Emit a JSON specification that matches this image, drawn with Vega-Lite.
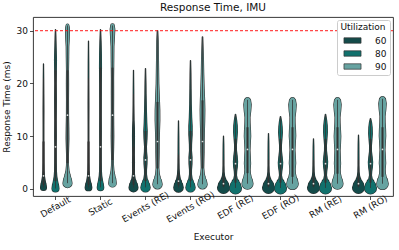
{
"$schema":"https://vega.github.io/schema/vega-lite/v6.json",
"width":360,"height":179,"autosize":"none",
"padding":{"left":33,"top":17,"right":6,"bottom":54},
"background":"white",
"config":{"font":"DejaVu Sans","view":{"stroke":"#222222","strokeWidth":0.9},
 "axis":{"grid":false,"domain":false,"tickColor":"#222222","tickSize":3.5,"tickWidth":0.8,"labelColor":"#111111","titleColor":"#111111","labelFontSize":9,"titleFontSize":9,"titleFontWeight":"normal"}},
"title":{"text":"Response Time, IMU","fontSize":10.5,"fontWeight":"normal","color":"#111111","offset":4},
"datasets":{
"violins":[
{"executor":"Default","util":60,"rt":0.3,"width":6},{"executor":"Default","util":60,"rt":0.8,"width":5.2},{"executor":"Default","util":60,"rt":1.5,"width":3.5},{"executor":"Default","util":60,"rt":2.5,"width":1.8},{"executor":"Default","util":60,"rt":3.5,"width":1.2},{"executor":"Default","util":60,"rt":5,"width":1},{"executor":"Default","util":60,"rt":8,"width":0.8},{"executor":"Default","util":60,"rt":12,"width":0.8},{"executor":"Default","util":60,"rt":15,"width":0.9},{"executor":"Default","util":60,"rt":18,"width":0.7},{"executor":"Default","util":60,"rt":21,"width":0.5},{"executor":"Default","util":60,"rt":23.7,"width":0.2},
{"executor":"Default","util":80,"rt":0.1,"width":7},{"executor":"Default","util":80,"rt":0.6,"width":6.3},{"executor":"Default","util":80,"rt":1.4,"width":4.4},{"executor":"Default","util":80,"rt":2.4,"width":2.6},{"executor":"Default","util":80,"rt":3.5,"width":1.8},{"executor":"Default","util":80,"rt":5,"width":1.5},{"executor":"Default","util":80,"rt":8,"width":1.3},{"executor":"Default","util":80,"rt":10,"width":1.6},{"executor":"Default","util":80,"rt":13,"width":1.3},{"executor":"Default","util":80,"rt":17,"width":1.7},{"executor":"Default","util":80,"rt":20,"width":1.3},{"executor":"Default","util":80,"rt":22,"width":1.6},{"executor":"Default","util":80,"rt":24.5,"width":2},{"executor":"Default","util":80,"rt":27,"width":1.3},{"executor":"Default","util":80,"rt":29,"width":0.8},{"executor":"Default","util":80,"rt":30.2,"width":0.3},
{"executor":"Default","util":90,"rt":1.1,"width":9},{"executor":"Default","util":90,"rt":1.7,"width":8},{"executor":"Default","util":90,"rt":2.5,"width":5.5},{"executor":"Default","util":90,"rt":3.5,"width":3},{"executor":"Default","util":90,"rt":4.5,"width":2},{"executor":"Default","util":90,"rt":6,"width":1.7},{"executor":"Default","util":90,"rt":7.5,"width":2.2},{"executor":"Default","util":90,"rt":9.5,"width":2.8},{"executor":"Default","util":90,"rt":11.5,"width":2.6},{"executor":"Default","util":90,"rt":14,"width":2.1},{"executor":"Default","util":90,"rt":17,"width":2},{"executor":"Default","util":90,"rt":20,"width":2.2},{"executor":"Default","util":90,"rt":22.5,"width":2},{"executor":"Default","util":90,"rt":25,"width":2.4},{"executor":"Default","util":90,"rt":27,"width":2.6},{"executor":"Default","util":90,"rt":28.5,"width":3.5},{"executor":"Default","util":90,"rt":30,"width":4},{"executor":"Default","util":90,"rt":30.6,"width":3.6},{"executor":"Default","util":90,"rt":31,"width":2.8},
{"executor":"Static","util":60,"rt":0.3,"width":6.7},{"executor":"Static","util":60,"rt":0.8,"width":5.8},{"executor":"Static","util":60,"rt":1.5,"width":3.7},{"executor":"Static","util":60,"rt":2.5,"width":2},{"executor":"Static","util":60,"rt":3.5,"width":1.2},{"executor":"Static","util":60,"rt":5,"width":1},{"executor":"Static","util":60,"rt":8,"width":0.8},{"executor":"Static","util":60,"rt":12,"width":0.8},{"executor":"Static","util":60,"rt":16,"width":0.9},{"executor":"Static","util":60,"rt":20,"width":0.7},{"executor":"Static","util":60,"rt":24,"width":0.6},{"executor":"Static","util":60,"rt":28,"width":0.2},
{"executor":"Static","util":80,"rt":0.3,"width":6.5},{"executor":"Static","util":80,"rt":0.8,"width":5.8},{"executor":"Static","util":80,"rt":1.5,"width":4.2},{"executor":"Static","util":80,"rt":2.5,"width":2.5},{"executor":"Static","util":80,"rt":3.5,"width":1.8},{"executor":"Static","util":80,"rt":5,"width":1.5},{"executor":"Static","util":80,"rt":8,"width":1.4},{"executor":"Static","util":80,"rt":11,"width":1.6},{"executor":"Static","util":80,"rt":14,"width":1.4},{"executor":"Static","util":80,"rt":17,"width":1.5},{"executor":"Static","util":80,"rt":20,"width":1.6},{"executor":"Static","util":80,"rt":23,"width":2},{"executor":"Static","util":80,"rt":25.5,"width":1.8},{"executor":"Static","util":80,"rt":28,"width":1.2},{"executor":"Static","util":80,"rt":30.2,"width":0.3},
{"executor":"Static","util":90,"rt":1.1,"width":7.5},{"executor":"Static","util":90,"rt":1.7,"width":6.8},{"executor":"Static","util":90,"rt":2.5,"width":4.8},{"executor":"Static","util":90,"rt":3.5,"width":2.8},{"executor":"Static","util":90,"rt":4.5,"width":2},{"executor":"Static","util":90,"rt":6,"width":1.8},{"executor":"Static","util":90,"rt":8,"width":2.3},{"executor":"Static","util":90,"rt":10,"width":2.6},{"executor":"Static","util":90,"rt":12,"width":2.4},{"executor":"Static","util":90,"rt":15,"width":2.2},{"executor":"Static","util":90,"rt":18,"width":2.3},{"executor":"Static","util":90,"rt":21,"width":2.2},{"executor":"Static","util":90,"rt":24,"width":2.5},{"executor":"Static","util":90,"rt":27,"width":2.8},{"executor":"Static","util":90,"rt":29,"width":4},{"executor":"Static","util":90,"rt":30.3,"width":4.6},{"executor":"Static","util":90,"rt":31,"width":3.5},
{"executor":"Events (RE)","util":60,"rt":0.3,"width":9},{"executor":"Events (RE)","util":60,"rt":0.7,"width":8},{"executor":"Events (RE)","util":60,"rt":1.3,"width":5.5},{"executor":"Events (RE)","util":60,"rt":2,"width":3.2},{"executor":"Events (RE)","util":60,"rt":2.8,"width":2},{"executor":"Events (RE)","util":60,"rt":3.8,"width":1.8},{"executor":"Events (RE)","util":60,"rt":5,"width":2},{"executor":"Events (RE)","util":60,"rt":6.5,"width":1.6},{"executor":"Events (RE)","util":60,"rt":8,"width":1.8},{"executor":"Events (RE)","util":60,"rt":10,"width":2},{"executor":"Events (RE)","util":60,"rt":11.5,"width":1.8},{"executor":"Events (RE)","util":60,"rt":13,"width":1.2},{"executor":"Events (RE)","util":60,"rt":16,"width":0.8},{"executor":"Events (RE)","util":60,"rt":19,"width":0.6},{"executor":"Events (RE)","util":60,"rt":22.5,"width":0.2},
{"executor":"Events (RE)","util":80,"rt":0.3,"width":9.3},{"executor":"Events (RE)","util":80,"rt":0.7,"width":8.3},{"executor":"Events (RE)","util":80,"rt":1.3,"width":5.8},{"executor":"Events (RE)","util":80,"rt":2,"width":3.2},{"executor":"Events (RE)","util":80,"rt":2.8,"width":2},{"executor":"Events (RE)","util":80,"rt":3.6,"width":2},{"executor":"Events (RE)","util":80,"rt":4.8,"width":3},{"executor":"Events (RE)","util":80,"rt":6,"width":3.2},{"executor":"Events (RE)","util":80,"rt":7,"width":2.2},{"executor":"Events (RE)","util":80,"rt":8,"width":1.9},{"executor":"Events (RE)","util":80,"rt":9.5,"width":3},{"executor":"Events (RE)","util":80,"rt":11,"width":3.4},{"executor":"Events (RE)","util":80,"rt":12.5,"width":2.6},{"executor":"Events (RE)","util":80,"rt":15,"width":1.8},{"executor":"Events (RE)","util":80,"rt":18,"width":1.2},{"executor":"Events (RE)","util":80,"rt":20,"width":1},{"executor":"Events (RE)","util":80,"rt":22.8,"width":0.3},
{"executor":"Events (RE)","util":90,"rt":0.9,"width":9.3},{"executor":"Events (RE)","util":90,"rt":1.4,"width":8.2},{"executor":"Events (RE)","util":90,"rt":2.1,"width":5.5},{"executor":"Events (RE)","util":90,"rt":3,"width":3.5},{"executor":"Events (RE)","util":90,"rt":4,"width":2.7},{"executor":"Events (RE)","util":90,"rt":5.5,"width":3},{"executor":"Events (RE)","util":90,"rt":7,"width":3.3},{"executor":"Events (RE)","util":90,"rt":9,"width":3.4},{"executor":"Events (RE)","util":90,"rt":11,"width":4},{"executor":"Events (RE)","util":90,"rt":13,"width":4.7},{"executor":"Events (RE)","util":90,"rt":15,"width":4.6},{"executor":"Events (RE)","util":90,"rt":17,"width":3.8},{"executor":"Events (RE)","util":90,"rt":20,"width":2.6},{"executor":"Events (RE)","util":90,"rt":24,"width":2},{"executor":"Events (RE)","util":90,"rt":28,"width":1.5},{"executor":"Events (RE)","util":90,"rt":30,"width":0.5},
{"executor":"Events (RO)","util":60,"rt":0.3,"width":9.5},{"executor":"Events (RO)","util":60,"rt":0.7,"width":8.5},{"executor":"Events (RO)","util":60,"rt":1.3,"width":6},{"executor":"Events (RO)","util":60,"rt":2,"width":3.5},{"executor":"Events (RO)","util":60,"rt":2.8,"width":2},{"executor":"Events (RO)","util":60,"rt":3.8,"width":1.3},{"executor":"Events (RO)","util":60,"rt":5,"width":1.1},{"executor":"Events (RO)","util":60,"rt":7,"width":0.9},{"executor":"Events (RO)","util":60,"rt":10,"width":0.7},{"executor":"Events (RO)","util":60,"rt":12.9,"width":0.2},
{"executor":"Events (RO)","util":80,"rt":0.3,"width":9.3},{"executor":"Events (RO)","util":80,"rt":0.7,"width":8.3},{"executor":"Events (RO)","util":80,"rt":1.3,"width":5.8},{"executor":"Events (RO)","util":80,"rt":2,"width":3.2},{"executor":"Events (RO)","util":80,"rt":2.8,"width":2},{"executor":"Events (RO)","util":80,"rt":3.6,"width":2},{"executor":"Events (RO)","util":80,"rt":4.8,"width":3},{"executor":"Events (RO)","util":80,"rt":6,"width":3.1},{"executor":"Events (RO)","util":80,"rt":7.3,"width":2},{"executor":"Events (RO)","util":80,"rt":8.5,"width":2.2},{"executor":"Events (RO)","util":80,"rt":10.3,"width":3.3},{"executor":"Events (RO)","util":80,"rt":12,"width":3.3},{"executor":"Events (RO)","util":80,"rt":13.5,"width":2.4},{"executor":"Events (RO)","util":80,"rt":16,"width":1.6},{"executor":"Events (RO)","util":80,"rt":19,"width":1.2},{"executor":"Events (RO)","util":80,"rt":22,"width":0.9},{"executor":"Events (RO)","util":80,"rt":24.3,"width":0.3},
{"executor":"Events (RO)","util":90,"rt":0.9,"width":9.3},{"executor":"Events (RO)","util":90,"rt":1.4,"width":8.2},{"executor":"Events (RO)","util":90,"rt":2.1,"width":5.5},{"executor":"Events (RO)","util":90,"rt":3,"width":3.4},{"executor":"Events (RO)","util":90,"rt":4,"width":2.5},{"executor":"Events (RO)","util":90,"rt":5.5,"width":2.8},{"executor":"Events (RO)","util":90,"rt":7,"width":3.2},{"executor":"Events (RO)","util":90,"rt":9,"width":3.3},{"executor":"Events (RO)","util":90,"rt":11,"width":3.8},{"executor":"Events (RO)","util":90,"rt":13,"width":4.4},{"executor":"Events (RO)","util":90,"rt":15,"width":4.7},{"executor":"Events (RO)","util":90,"rt":17,"width":4.2},{"executor":"Events (RO)","util":90,"rt":19,"width":3.3},{"executor":"Events (RO)","util":90,"rt":22,"width":2.4},{"executor":"Events (RO)","util":90,"rt":25,"width":1.8},{"executor":"Events (RO)","util":90,"rt":28.8,"width":0.5},
{"executor":"EDF (RE)","util":60,"rt":0.3,"width":12},{"executor":"EDF (RE)","util":60,"rt":0.7,"width":10.5},{"executor":"EDF (RE)","util":60,"rt":1.2,"width":7.5},{"executor":"EDF (RE)","util":60,"rt":1.8,"width":4.5},{"executor":"EDF (RE)","util":60,"rt":2.5,"width":2.2},{"executor":"EDF (RE)","util":60,"rt":3.2,"width":1.3},{"executor":"EDF (RE)","util":60,"rt":4.5,"width":1},{"executor":"EDF (RE)","util":60,"rt":6.5,"width":0.9},{"executor":"EDF (RE)","util":60,"rt":8.5,"width":0.7},{"executor":"EDF (RE)","util":60,"rt":10,"width":0.2},
{"executor":"EDF (RE)","util":80,"rt":0.2,"width":12},{"executor":"EDF (RE)","util":80,"rt":0.6,"width":10.5},{"executor":"EDF (RE)","util":80,"rt":1.2,"width":7},{"executor":"EDF (RE)","util":80,"rt":1.9,"width":3.5},{"executor":"EDF (RE)","util":80,"rt":2.6,"width":2},{"executor":"EDF (RE)","util":80,"rt":3.3,"width":2.4},{"executor":"EDF (RE)","util":80,"rt":4.3,"width":3.8},{"executor":"EDF (RE)","util":80,"rt":5.2,"width":4.2},{"executor":"EDF (RE)","util":80,"rt":6.2,"width":3.4},{"executor":"EDF (RE)","util":80,"rt":7.3,"width":2},{"executor":"EDF (RE)","util":80,"rt":8.3,"width":1.8},{"executor":"EDF (RE)","util":80,"rt":9.5,"width":2.8},{"executor":"EDF (RE)","util":80,"rt":10.8,"width":3.8},{"executor":"EDF (RE)","util":80,"rt":12,"width":3.5},{"executor":"EDF (RE)","util":80,"rt":13,"width":2.4},{"executor":"EDF (RE)","util":80,"rt":14.1,"width":0.5},
{"executor":"EDF (RE)","util":90,"rt":1,"width":11},{"executor":"EDF (RE)","util":90,"rt":1.5,"width":10},{"executor":"EDF (RE)","util":90,"rt":2.2,"width":7.5},{"executor":"EDF (RE)","util":90,"rt":3,"width":5.8},{"executor":"EDF (RE)","util":90,"rt":3.7,"width":5.3},{"executor":"EDF (RE)","util":90,"rt":4.8,"width":6.2},{"executor":"EDF (RE)","util":90,"rt":5.8,"width":5.8},{"executor":"EDF (RE)","util":90,"rt":7.3,"width":5},{"executor":"EDF (RE)","util":90,"rt":8.5,"width":5.5},{"executor":"EDF (RE)","util":90,"rt":10,"width":6.4},{"executor":"EDF (RE)","util":90,"rt":11.2,"width":6},{"executor":"EDF (RE)","util":90,"rt":12.5,"width":5.2},{"executor":"EDF (RE)","util":90,"rt":13.6,"width":5},{"executor":"EDF (RE)","util":90,"rt":14.8,"width":6.5},{"executor":"EDF (RE)","util":90,"rt":16,"width":7.5},{"executor":"EDF (RE)","util":90,"rt":16.6,"width":6.5},{"executor":"EDF (RE)","util":90,"rt":16.9,"width":4.5},
{"executor":"EDF (RO)","util":60,"rt":0.3,"width":12},{"executor":"EDF (RO)","util":60,"rt":0.7,"width":10.5},{"executor":"EDF (RO)","util":60,"rt":1.2,"width":7.5},{"executor":"EDF (RO)","util":60,"rt":1.8,"width":4.5},{"executor":"EDF (RO)","util":60,"rt":2.5,"width":2.2},{"executor":"EDF (RO)","util":60,"rt":3.2,"width":1.3},{"executor":"EDF (RO)","util":60,"rt":4.5,"width":1},{"executor":"EDF (RO)","util":60,"rt":7,"width":0.9},{"executor":"EDF (RO)","util":60,"rt":9,"width":0.7},{"executor":"EDF (RO)","util":60,"rt":10.5,"width":0.2},
{"executor":"EDF (RO)","util":80,"rt":0.2,"width":12},{"executor":"EDF (RO)","util":80,"rt":0.6,"width":10.5},{"executor":"EDF (RO)","util":80,"rt":1.2,"width":7},{"executor":"EDF (RO)","util":80,"rt":1.9,"width":3.5},{"executor":"EDF (RO)","util":80,"rt":2.6,"width":2},{"executor":"EDF (RO)","util":80,"rt":3.3,"width":2.6},{"executor":"EDF (RO)","util":80,"rt":4.2,"width":4},{"executor":"EDF (RO)","util":80,"rt":5,"width":4.4},{"executor":"EDF (RO)","util":80,"rt":6,"width":3.4},{"executor":"EDF (RO)","util":80,"rt":7.2,"width":2},{"executor":"EDF (RO)","util":80,"rt":8.2,"width":1.8},{"executor":"EDF (RO)","util":80,"rt":9.4,"width":2.8},{"executor":"EDF (RO)","util":80,"rt":10.7,"width":3.8},{"executor":"EDF (RO)","util":80,"rt":11.8,"width":3.3},{"executor":"EDF (RO)","util":80,"rt":12.8,"width":2.2},{"executor":"EDF (RO)","util":80,"rt":13.7,"width":0.5},
{"executor":"EDF (RO)","util":90,"rt":1,"width":11.5},{"executor":"EDF (RO)","util":90,"rt":1.5,"width":10.3},{"executor":"EDF (RO)","util":90,"rt":2.2,"width":7.5},{"executor":"EDF (RO)","util":90,"rt":3,"width":5.8},{"executor":"EDF (RO)","util":90,"rt":3.8,"width":5.4},{"executor":"EDF (RO)","util":90,"rt":4.9,"width":6.4},{"executor":"EDF (RO)","util":90,"rt":6,"width":5.8},{"executor":"EDF (RO)","util":90,"rt":7.4,"width":5},{"executor":"EDF (RO)","util":90,"rt":8.6,"width":5.6},{"executor":"EDF (RO)","util":90,"rt":10.1,"width":6.5},{"executor":"EDF (RO)","util":90,"rt":11.3,"width":6},{"executor":"EDF (RO)","util":90,"rt":12.5,"width":5.2},{"executor":"EDF (RO)","util":90,"rt":13.6,"width":5.1},{"executor":"EDF (RO)","util":90,"rt":14.8,"width":6.6},{"executor":"EDF (RO)","util":90,"rt":16,"width":7.5},{"executor":"EDF (RO)","util":90,"rt":16.6,"width":6.4},{"executor":"EDF (RO)","util":90,"rt":16.9,"width":4.5},
{"executor":"RM (RE)","util":60,"rt":0.3,"width":12},{"executor":"RM (RE)","util":60,"rt":0.7,"width":10.5},{"executor":"RM (RE)","util":60,"rt":1.2,"width":7.5},{"executor":"RM (RE)","util":60,"rt":1.8,"width":4.5},{"executor":"RM (RE)","util":60,"rt":2.5,"width":2.2},{"executor":"RM (RE)","util":60,"rt":3.2,"width":1.4},{"executor":"RM (RE)","util":60,"rt":4.5,"width":1.1},{"executor":"RM (RE)","util":60,"rt":6.5,"width":0.9},{"executor":"RM (RE)","util":60,"rt":8.2,"width":0.7},{"executor":"RM (RE)","util":60,"rt":9.5,"width":0.2},
{"executor":"RM (RE)","util":80,"rt":0.2,"width":12},{"executor":"RM (RE)","util":80,"rt":0.6,"width":10.5},{"executor":"RM (RE)","util":80,"rt":1.2,"width":7},{"executor":"RM (RE)","util":80,"rt":1.9,"width":3.5},{"executor":"RM (RE)","util":80,"rt":2.6,"width":2},{"executor":"RM (RE)","util":80,"rt":3.3,"width":2.5},{"executor":"RM (RE)","util":80,"rt":4.3,"width":3.9},{"executor":"RM (RE)","util":80,"rt":5.2,"width":4.3},{"executor":"RM (RE)","util":80,"rt":6.2,"width":3.3},{"executor":"RM (RE)","util":80,"rt":7.3,"width":2},{"executor":"RM (RE)","util":80,"rt":8.3,"width":1.9},{"executor":"RM (RE)","util":80,"rt":9.5,"width":2.9},{"executor":"RM (RE)","util":80,"rt":10.8,"width":3.8},{"executor":"RM (RE)","util":80,"rt":12,"width":3.5},{"executor":"RM (RE)","util":80,"rt":13,"width":2.4},{"executor":"RM (RE)","util":80,"rt":14.1,"width":0.5},
{"executor":"RM (RE)","util":90,"rt":1,"width":11},{"executor":"RM (RE)","util":90,"rt":1.5,"width":10},{"executor":"RM (RE)","util":90,"rt":2.2,"width":7.5},{"executor":"RM (RE)","util":90,"rt":3,"width":5.8},{"executor":"RM (RE)","util":90,"rt":3.7,"width":5.4},{"executor":"RM (RE)","util":90,"rt":4.8,"width":6.2},{"executor":"RM (RE)","util":90,"rt":5.8,"width":5.8},{"executor":"RM (RE)","util":90,"rt":7.3,"width":5.2},{"executor":"RM (RE)","util":90,"rt":8.5,"width":6},{"executor":"RM (RE)","util":90,"rt":10,"width":6.6},{"executor":"RM (RE)","util":90,"rt":11.2,"width":6},{"executor":"RM (RE)","util":90,"rt":12.5,"width":5.2},{"executor":"RM (RE)","util":90,"rt":13.6,"width":5},{"executor":"RM (RE)","util":90,"rt":14.8,"width":6.4},{"executor":"RM (RE)","util":90,"rt":16,"width":7.4},{"executor":"RM (RE)","util":90,"rt":16.6,"width":6.4},{"executor":"RM (RE)","util":90,"rt":16.9,"width":4.5},
{"executor":"RM (RO)","util":60,"rt":0.3,"width":12},{"executor":"RM (RO)","util":60,"rt":0.7,"width":10.5},{"executor":"RM (RO)","util":60,"rt":1.2,"width":7.5},{"executor":"RM (RO)","util":60,"rt":1.8,"width":4.5},{"executor":"RM (RO)","util":60,"rt":2.5,"width":2.2},{"executor":"RM (RO)","util":60,"rt":3.2,"width":1.3},{"executor":"RM (RO)","util":60,"rt":4.5,"width":1},{"executor":"RM (RO)","util":60,"rt":6.5,"width":0.9},{"executor":"RM (RO)","util":60,"rt":8.7,"width":0.7},{"executor":"RM (RO)","util":60,"rt":10.2,"width":0.2},
{"executor":"RM (RO)","util":80,"rt":0.2,"width":12},{"executor":"RM (RO)","util":80,"rt":0.6,"width":10.5},{"executor":"RM (RO)","util":80,"rt":1.2,"width":7},{"executor":"RM (RO)","util":80,"rt":1.9,"width":3.5},{"executor":"RM (RO)","util":80,"rt":2.6,"width":2},{"executor":"RM (RO)","util":80,"rt":3.3,"width":2.5},{"executor":"RM (RO)","util":80,"rt":4.2,"width":3.9},{"executor":"RM (RO)","util":80,"rt":5.1,"width":4.3},{"executor":"RM (RO)","util":80,"rt":6.1,"width":3.3},{"executor":"RM (RO)","util":80,"rt":7.1,"width":2},{"executor":"RM (RO)","util":80,"rt":8.1,"width":1.8},{"executor":"RM (RO)","util":80,"rt":9.3,"width":2.8},{"executor":"RM (RO)","util":80,"rt":10.5,"width":3.7},{"executor":"RM (RO)","util":80,"rt":11.7,"width":3.3},{"executor":"RM (RO)","util":80,"rt":12.6,"width":2.2},{"executor":"RM (RO)","util":80,"rt":13.3,"width":0.5},
{"executor":"RM (RO)","util":90,"rt":1,"width":11.5},{"executor":"RM (RO)","util":90,"rt":1.5,"width":10.3},{"executor":"RM (RO)","util":90,"rt":2.2,"width":7.5},{"executor":"RM (RO)","util":90,"rt":3,"width":5.8},{"executor":"RM (RO)","util":90,"rt":3.8,"width":5.4},{"executor":"RM (RO)","util":90,"rt":4.9,"width":6.4},{"executor":"RM (RO)","util":90,"rt":6,"width":5.8},{"executor":"RM (RO)","util":90,"rt":7.4,"width":5},{"executor":"RM (RO)","util":90,"rt":8.6,"width":5.6},{"executor":"RM (RO)","util":90,"rt":10.1,"width":6.5},{"executor":"RM (RO)","util":90,"rt":11.3,"width":6.1},{"executor":"RM (RO)","util":90,"rt":12.6,"width":5.3},{"executor":"RM (RO)","util":90,"rt":13.8,"width":5.1},{"executor":"RM (RO)","util":90,"rt":15,"width":6.6},{"executor":"RM (RO)","util":90,"rt":16.2,"width":7.5},{"executor":"RM (RO)","util":90,"rt":16.8,"width":6.4},{"executor":"RM (RO)","util":90,"rt":17.1,"width":4.5}
],
"stats":[
{"executor":"Default","util":60,"lo":0.3,"q1":0.8,"med":2.5,"q3":9,"hi":21},
{"executor":"Default","util":80,"lo":0.1,"q1":1.5,"med":8,"q3":22.5,"hi":30.2},
{"executor":"Default","util":90,"lo":1.1,"q1":4.9,"med":14,"q3":22.5,"hi":31},
{"executor":"Static","util":60,"lo":0.3,"q1":0.8,"med":2.5,"q3":9,"hi":21},
{"executor":"Static","util":80,"lo":0.3,"q1":1.5,"med":8,"q3":23,"hi":30.2},
{"executor":"Static","util":90,"lo":1.1,"q1":5.5,"med":14,"q3":23,"hi":31},
{"executor":"Events (RE)","util":60,"lo":0.3,"q1":0.8,"med":2.5,"q3":8,"hi":18},
{"executor":"Events (RE)","util":80,"lo":0.3,"q1":1.5,"med":5.5,"q3":11,"hi":22.8},
{"executor":"Events (RE)","util":90,"lo":0.9,"q1":3.9,"med":9,"q3":16.5,"hi":30},
{"executor":"Events (RO)","util":60,"lo":0.3,"q1":0.7,"med":1.5,"q3":3,"hi":6.5},
{"executor":"Events (RO)","util":80,"lo":0.3,"q1":1.5,"med":5.5,"q3":11,"hi":24.3},
{"executor":"Events (RO)","util":90,"lo":0.9,"q1":3.9,"med":9,"q3":16.8,"hi":28.8},
{"executor":"EDF (RE)","util":60,"lo":0.3,"q1":0.5,"med":1,"q3":2.5,"hi":5.5},
{"executor":"EDF (RE)","util":80,"lo":0.2,"q1":1.2,"med":4.8,"q3":9.5,"hi":14.1},
{"executor":"EDF (RE)","util":90,"lo":1,"q1":3,"med":7.5,"q3":11.7,"hi":16.9},
{"executor":"EDF (RO)","util":60,"lo":0.3,"q1":0.5,"med":1,"q3":2.5,"hi":5.5},
{"executor":"EDF (RO)","util":80,"lo":0.2,"q1":1.2,"med":4.8,"q3":9.5,"hi":13.7},
{"executor":"EDF (RO)","util":90,"lo":1,"q1":2.3,"med":7.5,"q3":11.7,"hi":16.9},
{"executor":"RM (RE)","util":60,"lo":0.3,"q1":0.5,"med":1,"q3":2.5,"hi":5.5},
{"executor":"RM (RE)","util":80,"lo":0.2,"q1":1.2,"med":4.8,"q3":9.5,"hi":14.1},
{"executor":"RM (RE)","util":90,"lo":1,"q1":2.9,"med":7.5,"q3":11.7,"hi":16.9},
{"executor":"RM (RO)","util":60,"lo":0.3,"q1":0.5,"med":1,"q3":2.5,"hi":5.5},
{"executor":"RM (RO)","util":80,"lo":0.2,"q1":1.2,"med":4.8,"q3":9.5,"hi":13.3},
{"executor":"RM (RO)","util":90,"lo":1,"q1":2.3,"med":7.5,"q3":11.7,"hi":17.1}
],
"limit":[{"deadline":30}]
},
"layer":[
{"data":{"name":"stats"},
 "mark":{"type":"bar","strokeWidth":0},
 "encoding":{
  "x":{"field":"executor","type":"nominal","title":"Executor","sort":["Default","Static","Events (RE)","Events (RO)","EDF (RE)","EDF (RO)","RM (RE)","RM (RO)"],
   "scale":{"paddingInner":0,"paddingOuter":0},
   "axis":{"labelAngle":-30,"labelAlign":"center","labelBaseline":"middle","labelPadding":7,"titlePadding":8,
    "encode":{"labels":{"update":{"dx":{"signal":"-0.62*length(datum.label)"},"dy":{"signal":"1.08*length(datum.label)"}}}}}},
  "xOffset":{"field":"util","type":"nominal","scale":{"paddingInner":0,"paddingOuter":0.375}},
  "y":{"field":"lo","type":"quantitative","title":"Response Time (ms)","scale":{"domain":[-1.33,32.6],"nice":false,"zero":false},
   "axis":{"values":[0,5,10,15,20,25,30],"labelPadding":2,"titlePadding":5}},
  "y2":{"field":"lo"},
  "color":{"field":"util","type":"nominal","title":"Utilization","scale":{"domain":[60,80,90],"range":["#144b4a","#11716d","#67a3a1"]},
   "legend":{"orient":"top-right","offset":3,"padding":3,"fillColor":"white","strokeColor":"#cccccc","cornerRadius":2,
    "titleFontSize":9,"titleFontWeight":"normal","titleColor":"#111111","titlePadding":3,"labelFontSize":9,"labelColor":"#111111","titleAnchor":"middle",
    "symbolType":"M-1.8,-0.57H1.8V0.57H-1.8Z","symbolSize":90,"symbolOffset":7,"labelOffset":17,"rowPadding":2,
    "symbolStrokeColor":"#333333","symbolStrokeWidth":0.7,"symbolOpacity":1}}}},
{"data":{"name":"violins"},
 "mark":{"type":"trail","color":"#2a2a2a"},
 "encoding":{
  "x":{"field":"executor","type":"nominal","sort":["Default","Static","Events (RE)","Events (RO)","EDF (RE)","EDF (RO)","RM (RE)","RM (RO)"]},
  "xOffset":{"field":"util","type":"nominal"},
  "y":{"field":"rt","type":"quantitative"},
  "size":{"field":"width","type":"quantitative","scale":{"domain":[0,12],"range":[1.1,13.1]},"legend":null},
  "detail":[{"field":"executor"},{"field":"util"}],
  "order":{"field":"rt","type":"quantitative"}
 }},
{"data":{"name":"violins"},
 "mark":{"type":"trail"},
 "encoding":{
  "x":{"field":"executor","type":"nominal","sort":["Default","Static","Events (RE)","Events (RO)","EDF (RE)","EDF (RO)","RM (RE)","RM (RO)"]},
  "xOffset":{"field":"util","type":"nominal"},
  "y":{"field":"rt","type":"quantitative"},
  "size":{"field":"width","type":"quantitative","scale":{"domain":[0,12],"range":[0,12]},"legend":null},
  "fill":{"field":"util","type":"nominal","scale":{"domain":[60,80,90],"range":["#144b4a","#11716d","#67a3a1"]},"legend":null},
  "detail":{"field":"executor"},
  "order":{"field":"rt","type":"quantitative"}
 }},
{"data":{"name":"stats"},
 "mark":{"type":"rule","color":"#333333","strokeWidth":0.8},
 "encoding":{
  "x":{"field":"executor","type":"nominal","sort":["Default","Static","Events (RE)","Events (RO)","EDF (RE)","EDF (RO)","RM (RE)","RM (RO)"]},
  "xOffset":{"field":"util","type":"nominal"},
  "y":{"field":"lo","type":"quantitative"},"y2":{"field":"hi"}}},
{"data":{"name":"stats"},
 "mark":{"type":"rule","color":"#333333","strokeWidth":2},
 "encoding":{
  "x":{"field":"executor","type":"nominal","sort":["Default","Static","Events (RE)","Events (RO)","EDF (RE)","EDF (RO)","RM (RE)","RM (RO)"]},
  "xOffset":{"field":"util","type":"nominal"},
  "y":{"field":"q1","type":"quantitative"},"y2":{"field":"q3"}}},
{"data":{"name":"stats"},
 "mark":{"type":"point","filled":true,"color":"#dddddd","size":3,"opacity":1},
 "encoding":{
  "x":{"field":"executor","type":"nominal","sort":["Default","Static","Events (RE)","Events (RO)","EDF (RE)","EDF (RO)","RM (RE)","RM (RO)"]},
  "xOffset":{"field":"util","type":"nominal"},
  "y":{"field":"med","type":"quantitative"}}},
{"data":{"name":"limit"},
 "mark":{"type":"rule","color":"#ff0000","strokeDash":[3,2],"strokeWidth":0.9},
 "encoding":{"y":{"field":"deadline","type":"quantitative"}}}
],
"resolve":{"scale":{"size":"independent"}}
}
